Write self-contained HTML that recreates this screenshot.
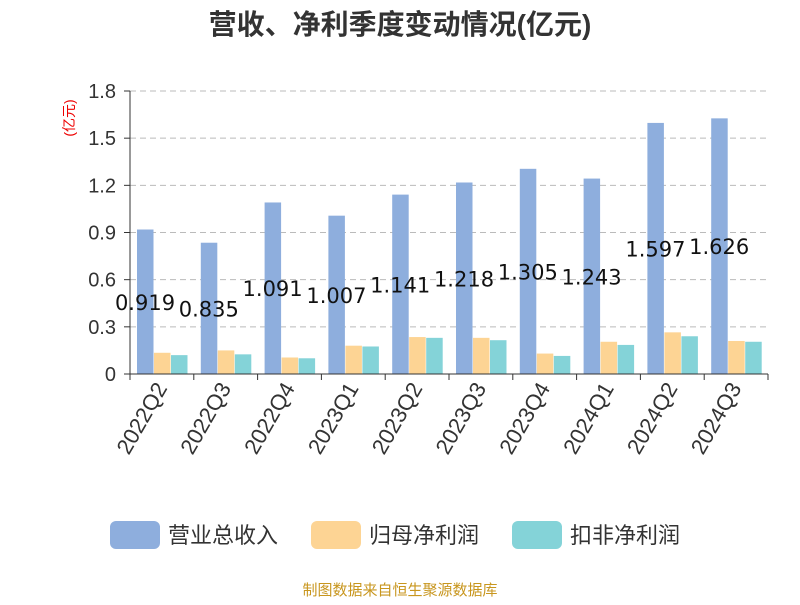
<!DOCTYPE html>
<html><head><meta charset="utf-8"><style>
body{margin:0;background:#fff;}
svg{font-family:"Liberation Sans","Noto Sans CJK SC",sans-serif;}
</style></head><body>
<svg width="800" height="600" xmlns="http://www.w3.org/2000/svg">
<text x="400" y="34" text-anchor="middle" font-size="28" font-weight="bold" fill="#333">营收、净利季度变动情况(亿元)</text>
<text transform="translate(74,118) rotate(-90)" text-anchor="middle" font-size="14" fill="#e00">(亿元)</text>
<g id="grid"></g><g id="bars"></g><g id="axes"></g><g id="labels"></g>
<g>
<rect x="110" y="521" width="50" height="28" rx="6" fill="#8eaedd"/>
<text x="168" y="543" font-size="22" fill="#333">营业总收入</text>
<rect x="311" y="521" width="50" height="28" rx="6" fill="#fdd494"/>
<text x="369" y="543" font-size="22" fill="#333">归母净利润</text>
<rect x="512" y="521" width="50" height="28" rx="6" fill="#84d3d8"/>
<text x="570" y="543" font-size="22" fill="#333">扣非净利润</text>
</g>
<text x="400" y="595" text-anchor="middle" font-size="15" fill="#c8961e">制图数据来自恒生聚源数据库</text>
</svg>
<script>
const categories=["2022Q2","2022Q3","2022Q4","2023Q1","2023Q2","2023Q3","2023Q4","2024Q1","2024Q2","2024Q3"];
const revenue=[0.919,0.835,1.091,1.007,1.141,1.218,1.305,1.243,1.597,1.626];
const netProfit=[0.135,0.15,0.105,0.18,0.235,0.23,0.13,0.205,0.265,0.21];
const deductedProfit=[0.12,0.125,0.10,0.175,0.23,0.215,0.115,0.185,0.24,0.205];
const yTicks=[0,0.3,0.6,0.9,1.2,1.5,1.8];
const NS="http://www.w3.org/2000/svg";
const x0=130,x1=768,yTop=91,yBot=374,yMax=1.8;
const bw=(x1-x0)/categories.length;
const y=v=>yBot-v/yMax*(yBot-yTop);
function mk(tag,attrs,parent,txt){const e=document.createElementNS(NS,tag);for(const k in attrs)e.setAttribute(k,attrs[k]);if(txt!==undefined)e.textContent=txt;document.getElementById(parent).appendChild(e);return e;}
yTicks.forEach(t=>{
 if(t>0){const l=mk('line',{x1:x0,x2:x1,y1:y(t),y2:y(t),stroke:'#bbb','stroke-dasharray':'6,4'},'grid');
 
 }
 const tl=mk('text',{x:x0-14,y:y(t)+7,'text-anchor':'end','font-size':20,fill:'#333'},'axes',t===0?'0':t.toFixed(1));
 
 
 const tk=mk('line',{x1:x0-6,x2:x0,y1:y(t),y2:y(t),stroke:'#333'},'axes');
 
 
});
const series=[[revenue,'#8eaedd','bar-revenue'],[netProfit,'#fdd494','bar-net-profit'],[deductedProfit,'#84d3d8','bar-deducted-profit']];
categories.forEach((c,i)=>{
 const gx=x0+i*bw;
 series.forEach((s,j)=>{
  const v=s[0][i];const bx=gx+7+j*17;
  const r=mk('rect',{x:bx,y:y(v),width:16.5,height:yBot-y(v),fill:s[1]},'bars');
  
  
 });
 const lb=mk('text',{x:gx+15,y:(y(revenue[i])+yBot)/2+8,'text-anchor':'middle','font-size':21,fill:'#111','font-family':'"DejaVu Sans",sans-serif'},'labels',revenue[i].toFixed(3));
 
 
 const tk=mk('line',{x1:gx,x2:gx,y1:yBot,y2:yBot+6,stroke:'#333'},'axes');
 
 
 const cx=gx+bw/2;
 const xl=mk('text',{x:cx+6,y:yBot+14,'text-anchor':'end','font-size':22,fill:'#333',transform:`rotate(-60 ${cx+6} ${yBot+14})`},'axes',c);
 
 
});
const lt=mk('line',{x1:x1,x2:x1,y1:yBot,y2:yBot+6,stroke:'#333'},'axes');


const ya=mk('line',{x1:x0,x2:x0,y1:yTop,y2:yBot,stroke:'#333'},'axes');


const xa=mk('line',{x1:x0,x2:x1,y1:yBot,y2:yBot,stroke:'#333'},'axes');


</script>
</body></html>
